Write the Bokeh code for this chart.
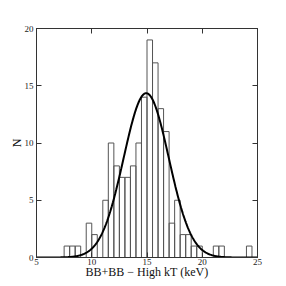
import numpy as np
from bokeh.plotting import figure
from bokeh.models import LinearAxis, FixedTicker, Range1d
from bokeh.embed import file_html
from bokeh.resources import INLINE

# ---- data ----
bin_left = [7.5, 8.0, 8.5, 9.5, 10.0, 11.0, 11.5, 12.0, 12.5, 13.0, 13.5, 14.0,
            14.5, 15.0, 15.5, 16.0, 16.5, 17.0, 17.5, 18.0, 18.5, 19.0, 19.5,
            21.0, 21.5, 24.0]
counts = [1, 1, 1, 3, 2, 5, 10, 8, 7, 7, 8, 10,
          14, 19, 17, 13, 11, 3, 5, 2, 2, 1, 1,
          1, 1, 1]
bin_width = 0.5

# Gaussian fit parameters (estimated from the drawn curve)
fit_amplitude = 14.35
fit_mean = 14.93
fit_sigma = 2.04

x_ticks = [5, 10, 15, 20, 25]
y_ticks = [0, 5, 10, 15, 20]
x_label = "BB+BB \u2212 High kT (keV)"
y_label = "N"

FONT = "Liberation Serif"
AXIS_COLOR = "#333333"

p = figure(width=286, height=286,
           x_range=Range1d(5, 25), y_range=Range1d(0, 20),
           output_backend="svg", toolbar_location=None,
           min_border_left=36, min_border_right=29,
           min_border_top=28, min_border_bottom=29)
p.grid.visible = False
p.outline_line_color = AXIS_COLOR
p.outline_line_width = 1
p.background_fill_color = "white"
p.border_fill_color = "white"

# histogram bars
left = np.array(bin_left)
p.quad(left=left, right=left + bin_width, bottom=0, top=counts,
       fill_alpha=0, line_color="#555555", line_width=1)

# Gaussian fit curve
xs = np.linspace(5, 25, 400)
ys = fit_amplitude * np.exp(-0.5 * ((xs - fit_mean) / fit_sigma) ** 2)
p.line(xs, ys, line_color="black", line_width=2)


def style_axis(ax, ticks, show_labels=True):
    ax.ticker = FixedTicker(ticks=ticks)
    ax.minor_tick_line_color = None
    ax.major_tick_in = 5
    ax.major_tick_out = 0
    ax.major_tick_line_color = AXIS_COLOR
    ax.axis_line_color = AXIS_COLOR
    ax.major_label_text_font = FONT
    ax.major_label_text_font_size = "9px"
    ax.major_label_text_color = "#222222"
    ax.axis_label_text_font = FONT
    ax.axis_label_text_font_size = "12px"
    ax.axis_label_text_font_style = "normal"
    ax.axis_label_text_color = "#111111"
    if not show_labels:
        ax.major_label_overrides = {t: "" for t in ticks}


xa = p.xaxis[0]
style_axis(xa, x_ticks)
xa.axis_label = x_label
xa.major_label_standoff = 1
xa.axis_label_standoff = -3

ya = p.yaxis[0]
style_axis(ya, y_ticks)
ya.axis_label = y_label
ya.major_label_standoff = 3
ya.axis_label_standoff = -2

top_ax = LinearAxis()
style_axis(top_ax, x_ticks, show_labels=False)
p.add_layout(top_ax, "above")

right_ax = LinearAxis()
style_axis(right_ax, y_ticks, show_labels=False)
p.add_layout(right_ax, "right")

open("out.html", "w").write(file_html(p, INLINE))
